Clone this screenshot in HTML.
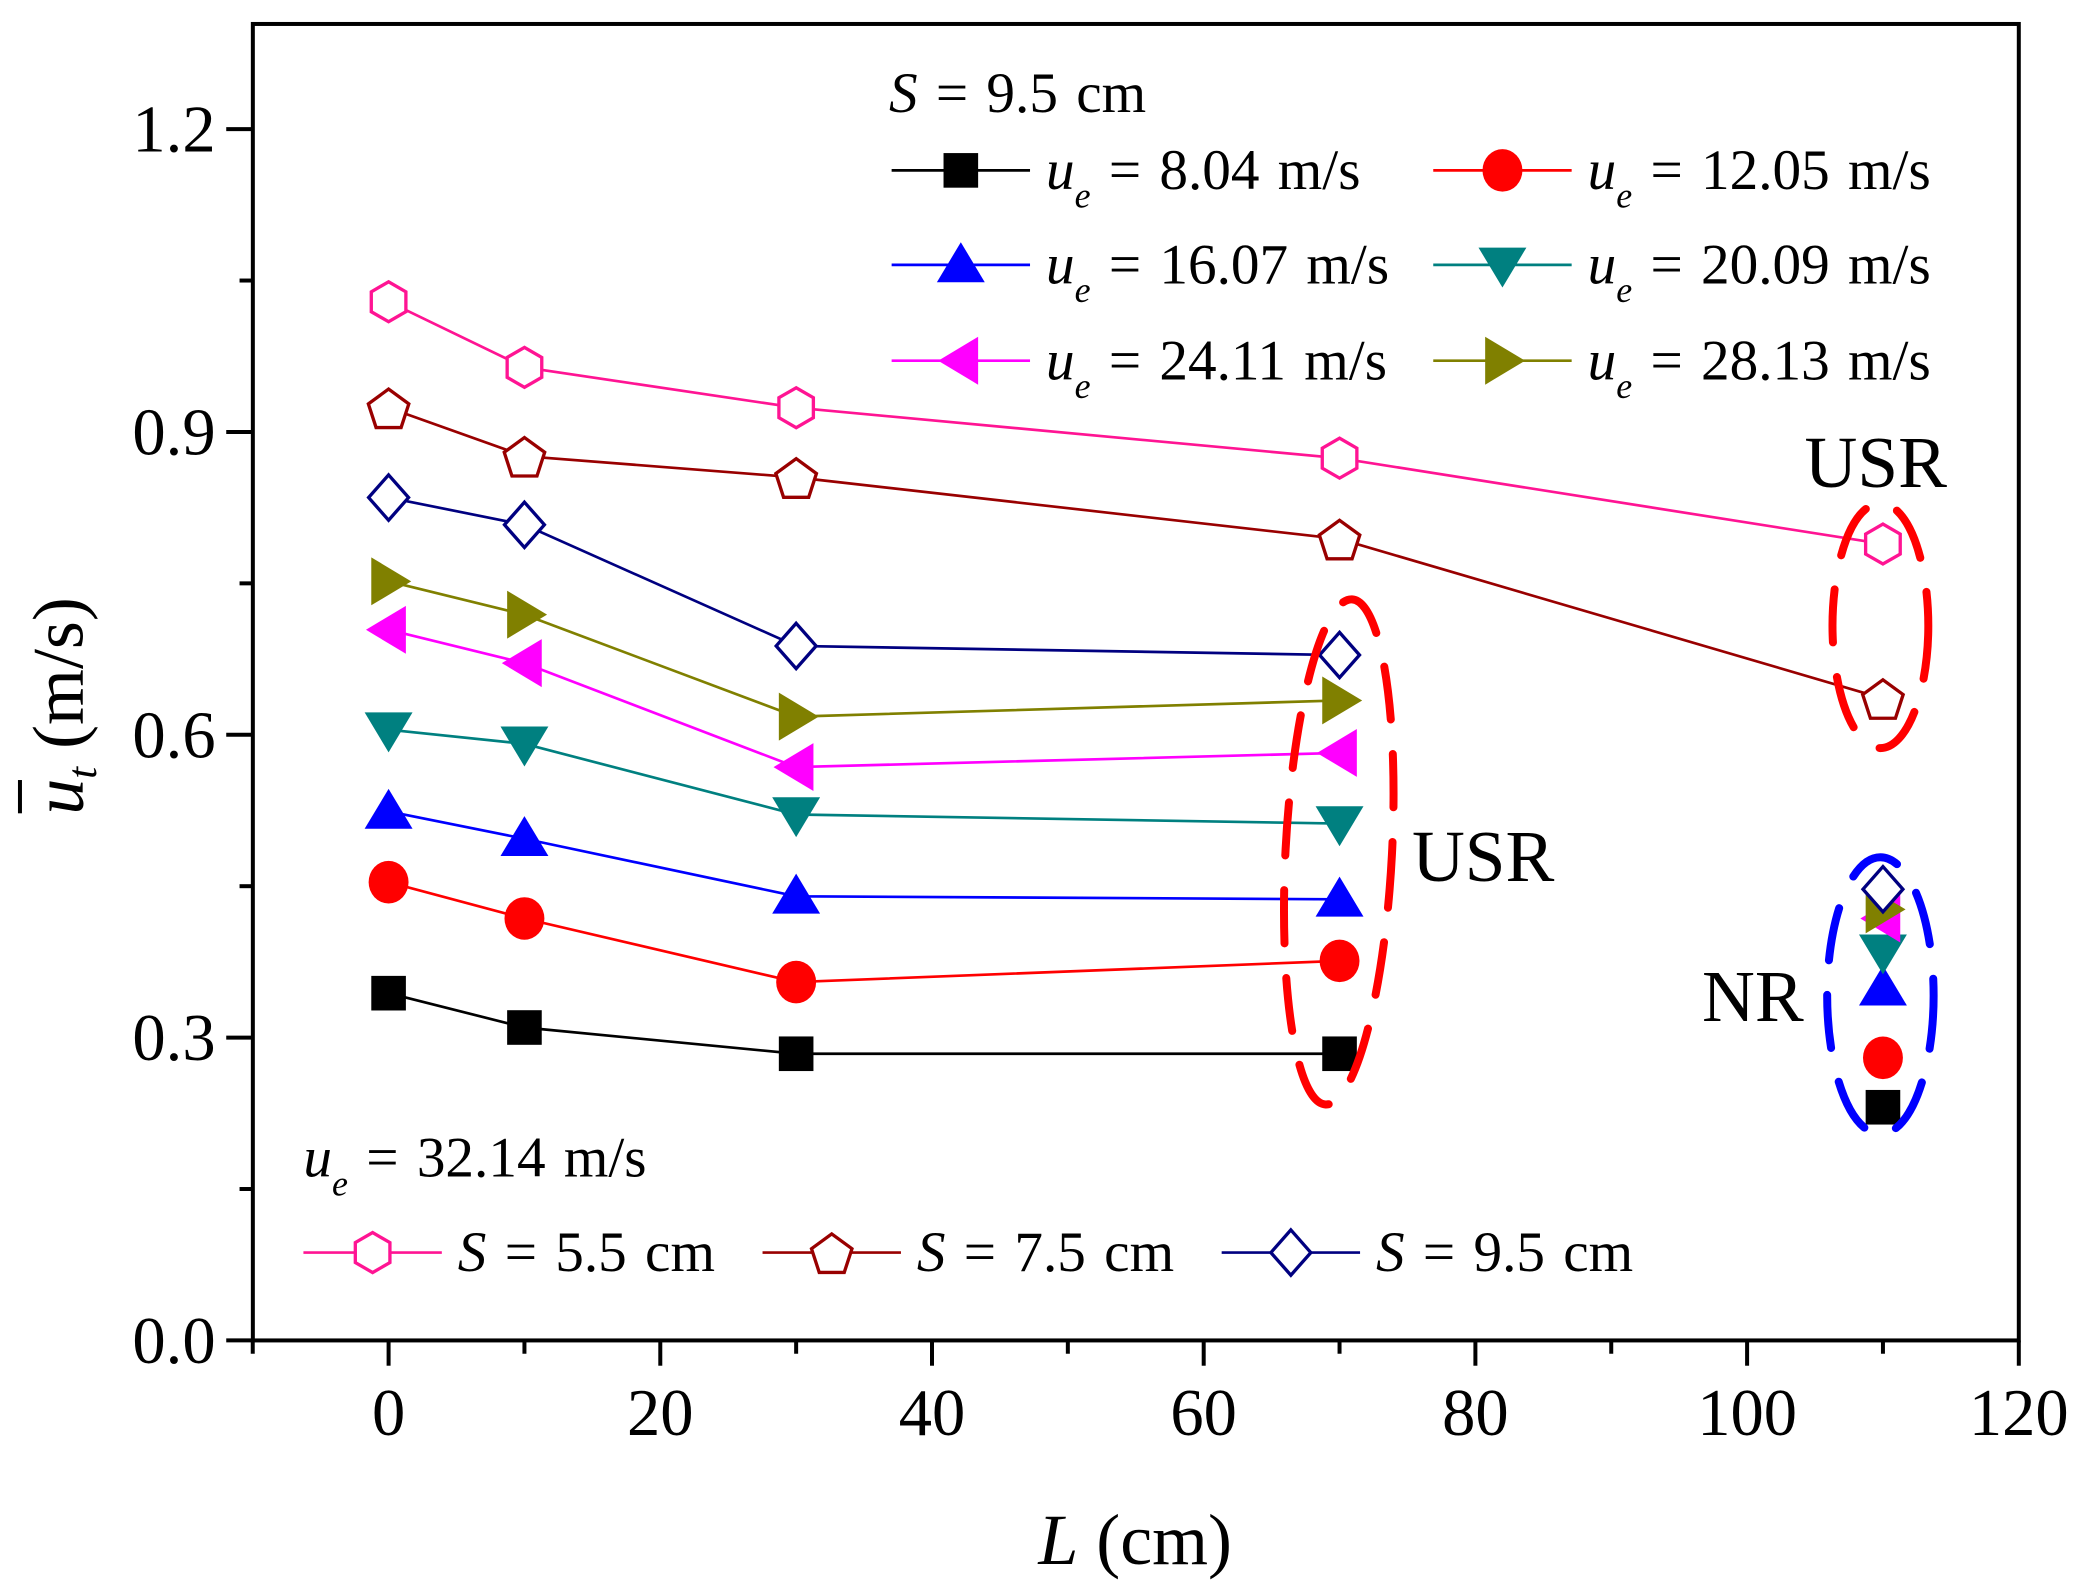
<!DOCTYPE html>
<html><head><meta charset="utf-8"><style>
html,body{margin:0;padding:0;background:#fff;}
svg{display:block;}
text{font-family:"Liberation Serif",serif;}
</style></head><body>
<svg id="chart" width="2088" height="1596" viewBox="0 0 1569 1199" preserveAspectRatio="none" xmlns="http://www.w3.org/2000/svg">
<rect width="1569" height="1199" fill="#fff"/>
<g id="plot"></g>
</svg>
<script>
const xVals = [0, 10, 30, 70, 110];
const sBlack = [0.344, 0.310, 0.284, 0.284, 0.231];
const sRed = [0.454, 0.418, 0.355, 0.376, 0.280];
const sBlue = [0.524, 0.497, 0.440, 0.437, 0.349];
const sTeal = [0.605, 0.591, 0.521, 0.512, 0.385];
const sMag = [0.704, 0.671, 0.568, 0.582, 0.418];
const sOlive = [0.752, 0.719, 0.618, 0.634, 0.427];
const sHex = [1.029, 0.964, 0.924, 0.874, 0.789];
const sPent = [0.924, 0.876, 0.855, 0.794, 0.636];
const sDiam = [0.835, 0.808, 0.688, 0.679, 0.447];
const xTicks = [0, 20, 40, 60, 80, 100, 120];
const yTicks = [0.0, 0.3, 0.6, 0.9, 1.2];
const yTickLabels = ["0.0", "0.3", "0.6", "0.9", "1.2"];

const NS = "http://www.w3.org/2000/svg";
const L = 190, R = 1517, T = 18, B = 1007;
function sx(v){ return 292 + (v) * (1517 - 292) / 120; }
function sy(v){ return B - v * (B - 97) / 1.2; }
const g = document.getElementById('plot');
function el(tag, attrs, parent){
  const e = document.createElementNS(NS, tag);
  for (const k in attrs) e.setAttribute(k, attrs[k]);
  (parent || g).appendChild(e);
  return e;
}
let fr = el('rect', {x:L, y:T, width:R-L, height:B-T, fill:'none', stroke:'#000', 'stroke-width':3});


for (let v = -10; v <= 120; v += 10) {
  const major = v % 20 === 0;
  const t = el('line', {x1:sx(v), x2:sx(v), y1:B, y2:B + (major ? 19 : 10), stroke:'#000', 'stroke-width':3});
  
  
}
xTicks.forEach(v => {
  const t = el('text', {x:sx(v), y:1078, 'font-size':50, 'text-anchor':'middle'});
  t.textContent = v;
  
  
});
for (let i = 0; i <= 8; i++) {
  const v = i * 0.15;
  const major = i % 2 === 0;
  const t = el('line', {x1:L - (major ? 20 : 10), x2:L, y1:sy(v), y2:sy(v), stroke:'#000', 'stroke-width':3});
  
  
}
yTicks.forEach((v, i) => {
  const t = el('text', {x:162, y:sy(v) + 17, 'font-size':50, 'text-anchor':'end'});
  t.textContent = yTickLabels[i];
  
  
});
let xt = el('text', {x:853, y:1175, 'font-size':54, 'text-anchor':'middle'});
xt.innerHTML = '<tspan font-style="italic">L</tspan> (cm)';


let yt = el('text', {x:-100, y:0, 'font-size':54, 'text-anchor':'start', transform:'translate(62,512) rotate(-90)'});
yt.innerHTML = '<tspan font-style="italic">u</tspan><tspan font-style="italic" font-size="32" dy="10">t</tspan><tspan dy="-10"> (m/s)</tspan>';


let ob = el('line', {x1:-99, x2:-74, y1:-47, y2:-47, stroke:'#000', 'stroke-width':3, transform:'translate(62,512) rotate(-90)'});



function marker(type, x, y, color, parent){
  const s = 13;
  let e;
  if (type === 'square') e = el('rect', {x:x-s, y:y-s, width:2*s, height:2*s, fill:color}, parent);
  else if (type === 'circle') e = el('ellipse', {cx:x, cy:y, rx:15, ry:16, fill:color}, parent);
  else if (type === 'up') e = el('polygon', {points:`${x},${y-17} ${x+18},${y+13} ${x-18},${y+13}`, fill:color}, parent);
  else if (type === 'down') e = el('polygon', {points:`${x},${y+17} ${x+18},${y-13} ${x-18},${y-13}`, fill:color}, parent);
  else if (type === 'left') e = el('polygon', {points:`${x-17},${y} ${x+13},${y-18} ${x+13},${y+18}`, fill:color}, parent);
  else if (type === 'right') e = el('polygon', {points:`${x+17},${y} ${x-13},${y-18} ${x-13},${y+18}`, fill:color}, parent);
  else if (type === 'hex') {
    let p = []; for (let k=0;k<6;k++){ const a = Math.PI/6 + k*Math.PI/3; p.push((x+15*Math.cos(a)).toFixed(1)+','+(y+15*Math.sin(a)).toFixed(1)); }
    e = el('polygon', {points:p.join(' '), fill:'#fff', stroke:color, 'stroke-width':2.5}, parent);
  } else if (type === 'pent') {
    let p = []; for (let k=0;k<5;k++){ const a = -Math.PI/2 + k*2*Math.PI/5; p.push((x+16*Math.cos(a)).toFixed(1)+','+(y+2+16*Math.sin(a)).toFixed(1)); }
    e = el('polygon', {points:p.join(' '), fill:'#fff', stroke:color, 'stroke-width':2.5}, parent);
  } else if (type === 'diam') {
    e = el('polygon', {points:`${x},${y-17} ${x+15},${y} ${x},${y+17} ${x-15},${y}`, fill:'#fff', stroke:color, 'stroke-width':2.5}, parent);
  }
  return e;
}
const series = [
  {name:'ue-8-04', data:sBlack, color:'#000', m:'square', n:4},
  {name:'ue-12-05', data:sRed, color:'#ff0000', m:'circle', n:4},
  {name:'ue-16-07', data:sBlue, color:'#0000ff', m:'up', n:4},
  {name:'ue-20-09', data:sTeal, color:'#008080', m:'down', n:4},
  {name:'ue-24-11', data:sMag, color:'#ff00ff', m:'left', n:4},
  {name:'ue-28-13', data:sOlive, color:'#808000', m:'right', n:4},
  {name:'s-5-5', data:sHex, color:'#ff1493', m:'hex', n:5},
  {name:'s-7-5', data:sPent, color:'#990000', m:'pent', n:5},
  {name:'s-9-5', data:sDiam, color:'#000080', m:'diam', n:4}
];
series.forEach(s => {
  const pts = [];
  for (let i = 0; i < s.n; i++) pts.push(sx(xVals[i]) + ',' + sy(s.data[i]));
  const pl = el('polyline', {points:pts.join(' '), fill:'none', stroke:s.color, 'stroke-width':2});
  
  
});
series.forEach(s => {
  s.data.forEach((v, i) => {
    const m = marker(s.m, sx(xVals[i]), sy(v), s.color);
    
    
  });
});
function ell(cx, cy, rx, ry, rot, color, name){
  const e = el('ellipse', {cx, cy, rx, ry, fill:'none', stroke:color, 'stroke-width':6, 'stroke-dasharray':'40 26', 'stroke-linecap':'round', transform:`rotate(${rot} ${cx} ${cy})`});
  
  
}
ell(1006, 640, 40, 190, 3, '#ff0000', 'usr-region-70');
ell(1413, 470, 36, 92, 0, '#ff0000', 'usr-region-110');
ell(1413, 748, 40, 104, 0, '#0000ff', 'nr-region-110');
function label(x, y, txt, name, size){
  const t = el('text', {x, y, 'font-size':size || 55});
  t.textContent = txt;
  
  
}
label(1356, 366, 'USR', 'usr-label-right');
label(1061, 662, 'USR', 'usr-label-middle');
label(1279, 767, 'NR', 'nr-label');
function legItem(x, y, s, html){
  const lg = el('g', {});
  
  
  el('line', {x1:x, x2:x+104, y1:y, y2:y, stroke:s.color, 'stroke-width':2}, lg);
  marker(s.m, x+52, y, s.color, lg);
  const t = el('text', {x:x+116, y:y+14, 'font-size':43, 'word-spacing':3}, lg);
  t.innerHTML = html;
}
function ueHtml(v){ return `<tspan font-style="italic">u</tspan><tspan font-style="italic" font-size="27" dy="14">e</tspan><tspan dy="-14"> = ${v} m/s</tspan>`; }
let lt = el('text', {x:668, y:84, 'font-size':43, 'word-spacing':3});
lt.innerHTML = '<tspan font-style="italic">S</tspan> = 9.5 cm';


legItem(670, 128, series[0], ueHtml('8.04'));
legItem(1077, 128, series[1], ueHtml('12.05'));
legItem(670, 199, series[2], ueHtml('16.07'));
legItem(1077, 199, series[3], ueHtml('20.09'));
legItem(670, 271, series[4], ueHtml('24.11'));
legItem(1077, 271, series[5], ueHtml('28.13'));
let lb = el('text', {x:228, y:884, 'font-size':43, 'word-spacing':3});
lb.innerHTML = ueHtml('32.14');


function sHtml(v){ return `<tspan font-style="italic">S</tspan> = ${v} cm`; }
legItem(228, 941, series[6], sHtml('5.5'));
legItem(573, 941, series[7], sHtml('7.5'));
legItem(918, 941, series[8], sHtml('9.5'));
</script>
</body></html>
